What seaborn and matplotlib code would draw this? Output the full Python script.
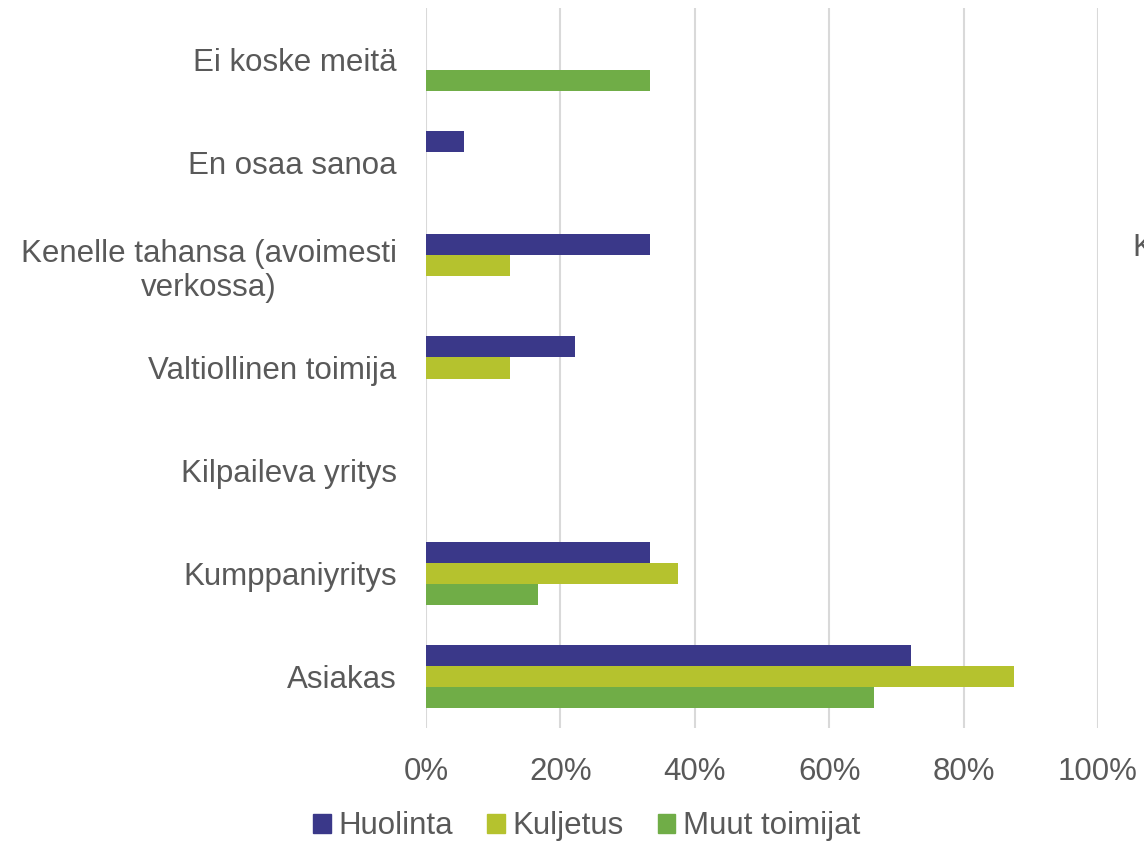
import numpy as np
import pandas as pd
import seaborn as sns
import matplotlib.pyplot as plt

categories = ["Ei koske meitä", "En osaa sanoa", "Kenelle tahansa (avoimesti\nverkossa)",
              "Valtiollinen toimija", "Kilpaileva yritys", "Kumppaniyritys", "Asiakas"]
groups = ["Huolinta", "Kuljetus", "Muut toimijat"]
huolinta = [0.0, 0.056, 0.333, 0.222, 0.0, 0.333, 0.722]
kuljetus = [0.0, 0.0, 0.125, 0.125, 0.0, 0.375, 0.875]
muut = [0.333, 0.0, 0.0, 0.0, 0.0, 0.167, 0.667]
colors = ["#3A3889", "#B5C22E", "#70AD47"]
x_ticks = [0, 0.2, 0.4, 0.6, 0.8, 1.0]
x_labels = ["0%", "20%", "40%", "60%", "80%", "100%"]

rows = []
for name, vals in zip(groups, [huolinta, kuljetus, muut]):
    for cat, v in zip(categories, vals):
        rows.append({"category": cat, "group": name, "value": v})
df = pd.DataFrame(rows)

sns.set_style("white")
plt.rcParams['font.family'] = ['Liberation Sans', 'DejaVu Sans']
text_color = "#595959"
fs = 22.5

fig = plt.figure(figsize=(11.44, 8.44), dpi=100)
ax = fig.add_axes([426 / 1144, (844 - 728) / 844, (1098 - 426) / 1144, 720 / 844])

sns.barplot(data=df, x="value", y="category", hue="group", order=categories,
            hue_order=groups, palette=colors, saturation=1, orient="h",
            width=0.615, gap=0, linewidth=0, ax=ax, legend=False)

ax.set_xlim(0, 1.0)
ax.set_ylim(6.5, -0.5)
ax.set_xticks(x_ticks)
ax.set_xticklabels(x_labels)
ax.xaxis.grid(True, color="#D9D9D9", linewidth=1.5)
ax.set_axisbelow(True)
for s in ax.spines.values():
    s.set_visible(False)
ax.tick_params(axis="both", length=0, labelsize=fs, colors=text_color)
ax.tick_params(axis="y", pad=21)
ax.tick_params(axis="x", pad=21)
for lab in ax.get_yticklabels():
    lab.set_multialignment("center")
ax.set_xlabel("")
ax.set_ylabel("")

handles = [plt.Rectangle((0, 0), 1, 1, color=c) for c in colors]
fig.legend(handles, groups, loc="center", bbox_to_anchor=(0.513, 0.021), ncol=3,
           frameon=False, fontsize=fs, labelcolor=text_color, handlelength=0.55,
           handleheight=0.55, handletextpad=0.25, columnspacing=1.1)

# neighbouring chart label cut off at the right edge
fig.text(1133 / 1144, 1 - 248 / 844, "Kenelle tahansa (avoimesti", fontsize=fs,
         color=text_color, va="center", ha="left")

fig.savefig("out.png", dpi=100)
